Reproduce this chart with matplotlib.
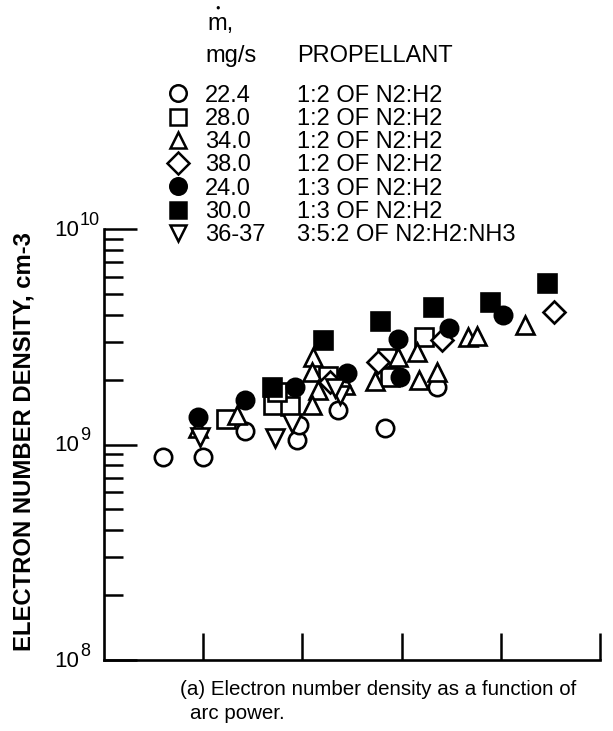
import matplotlib
matplotlib.use('Agg')
import matplotlib.pyplot as plt
from matplotlib.lines import Line2D
from matplotlib.ticker import LogLocator, FixedLocator, NullFormatter

plt.rcParams['font.family'] = ['Liberation Sans', 'DejaVu Sans']

# arc power (arbitrary units, ticks unlabelled in the original) and density, cm-3
# 22.4 mg/s, 1:2 N2:H2  (open circles)
x_c224 = [0.59, 1.00, 1.42, 1.95, 1.97, 2.36, 2.83, 3.36]
y_c224 = [8.75e8, 8.75e8, 1.16e9, 1.05e9, 1.23e9, 1.45e9, 1.19e9, 1.85e9]
# 28.0 mg/s, 1:2 N2:H2  (open squares)
x_s280 = [1.23, 1.70, 1.88, 1.74, 2.26, 2.85, 2.88, 3.23]
y_s280 = [1.31e9, 1.53e9, 1.51e9, 1.75e9, 2.08e9, 2.52e9, 2.06e9, 3.15e9]
# 34.0 mg/s, 1:2 N2:H2  (open triangles)
x_t340 = [0.95, 1.34, 2.11, 2.10, 2.16, 2.10, 2.43, 2.73, 2.96, 3.16, 3.18, 3.36, 3.67, 3.76, 4.24]
y_t340 = [1.19e9, 1.37e9, 2.55e9, 2.17e9, 1.79e9, 1.52e9, 1.89e9, 1.97e9, 2.55e9, 2.69e9,
          1.99e9, 2.17e9, 3.15e9, 3.18e9, 3.59e9]
# 38.0 mg/s, 1:2 N2:H2  (open diamonds)
x_d380 = [2.28, 2.76, 3.41, 4.54]
y_d380 = [1.95e9, 2.41e9, 3.05e9, 4.12e9]
# 24.0 mg/s, 1:3 N2:H2  (filled circles)
x_fc240 = [0.95, 1.42, 1.93, 2.45, 2.96, 2.98, 3.48, 4.02]
y_fc240 = [1.34e9, 1.61e9, 1.85e9, 2.15e9, 3.09e9, 2.06e9, 3.47e9, 3.99e9]
# 30.0 mg/s, 1:3 N2:H2  (filled squares)
x_fs300 = [1.69, 2.21, 2.78, 3.32, 3.89, 4.47]
y_fs300 = [1.85e9, 3.05e9, 3.74e9, 4.35e9, 4.58e9, 5.61e9]
# 36-37 mg/s, 3:5:2 N2:H2:NH3  (inverted triangles)
x_v365 = [0.97, 1.72, 1.90, 2.38, 2.33]
y_v365 = [1.08e9, 1.07e9, 1.26e9, 1.70e9, 1.83e9]

flow_labels = ['22.4', '28.0', '34.0', '38.0', '24.0', '30.0', '36-37']
prop_labels = ['1:2 OF N2:H2', '1:2 OF N2:H2', '1:2 OF N2:H2', '1:2 OF N2:H2',
               '1:3 OF N2:H2', '1:3 OF N2:H2', '3:5:2 OF N2:H2:NH3']
decades = [8, 9, 10]

series = [
    (x_c224, y_c224, 'o', 'white', 12.5),
    (x_s280, y_s280, 's', 'white', 12.5),
    (x_t340, y_t340, '^', 'white', 12.5),
    (x_d380, y_d380, 'D', 'white', 11.5),
    (x_fc240, y_fc240, 'o', 'black', 12.5),
    (x_fs300, y_fs300, 's', 'black', 12.5),
    (x_v365, y_v365, 'v', 'white', 12.5),
]

W, H = 613, 731
fig = plt.figure(figsize=(W / 100, H / 100), dpi=100)
ax = fig.add_axes([104 / W, 71 / H, 496 / W, 431 / H])

for xs, ys, mk, fc, ms in series:
    ax.plot(xs, ys, linestyle='none', marker=mk, markersize=ms,
            markerfacecolor=fc, markeredgecolor='black', markeredgewidth=1.9,
            clip_on=False, zorder=3)

ax.set_yscale('log')
ax.set_ylim(1e8, 1e10)
ax.set_xlim(0, 5)

# clean panel - only left and bottom axes, ticks pointing inward
for side in ['top', 'right']:
    ax.spines[side].set_visible(False)
for side in ['left', 'bottom']:
    ax.spines[side].set_linewidth(1.9)

ax.xaxis.set_major_locator(FixedLocator([1, 2, 3, 4, 5]))
ax.xaxis.set_major_formatter(NullFormatter())
ax.tick_params(axis='x', which='major', direction='in', length=19.5, width=1.8)

ax.yaxis.set_major_locator(FixedLocator([10.0 ** d for d in decades]))
ax.yaxis.set_major_formatter(NullFormatter())
ax.yaxis.set_minor_locator(LogLocator(base=10, subs=range(2, 10)))
ax.yaxis.set_minor_formatter(NullFormatter())
ax.tick_params(axis='y', which='major', direction='in', length=23.5, width=1.8)
ax.tick_params(axis='y', which='minor', direction='in', length=14, width=1.8)

# tick labels as 10 with a large exponent, like the original
for d in decades:
    ax.annotate('10', xy=(0, 10.0 ** d), xycoords=('axes fraction', 'data'),
                xytext=(-18, -5), textcoords='offset points',
                ha='right', va='baseline', fontsize=16, annotation_clip=False)
    ax.annotate(str(d), xy=(0, 10.0 ** d), xycoords=('axes fraction', 'data'),
                xytext=(-17.3, 3), textcoords='offset points',
                ha='left', va='baseline', fontsize=13, annotation_clip=False)

fig.text(24 / W, 1 - 442 / H, 'ELECTRON NUMBER DENSITY, cm-3', rotation=90,
         ha='center', va='center', fontsize=17.2, fontweight='bold')

# legend header (m with a dot over it)
fig.text(207 / W, 1 - 30 / H, 'm,', fontsize=17, va='baseline')
fig.text(217.5 / W, 1 - 8 / H, '\u25cf', fontsize=5.5, ha='center', va='center')
fig.text(205 / W, 1 - 62 / H, 'mg/s', fontsize=17, va='baseline')
fig.text(297 / W, 1 - 62 / H, 'PROPELLANT', fontsize=17, va='baseline')

# legend rows
for i, (xs, ys, mk, fc, ms) in enumerate(series):
    base = 101.5 + 23.3 * i
    fig.add_artist(Line2D([178 / W], [1 - (base - 8.3) / H], transform=fig.transFigure,
                          linestyle='none', marker=mk, markersize=ms * 0.95,
                          markerfacecolor=fc, markeredgecolor='black', markeredgewidth=1.8))
    fig.text(205 / W, 1 - base / H, flow_labels[i], fontsize=17, va='baseline')
    fig.text(297 / W, 1 - base / H, prop_labels[i], fontsize=17, va='baseline')

# caption
fig.text(180 / W, 1 - 695 / H, '(a) Electron number density as a function of',
         fontsize=14.8, va='baseline')
fig.text(190 / W, 1 - 719 / H, 'arc power.', fontsize=14.8, va='baseline')

fig.savefig('out.png', dpi=100)
